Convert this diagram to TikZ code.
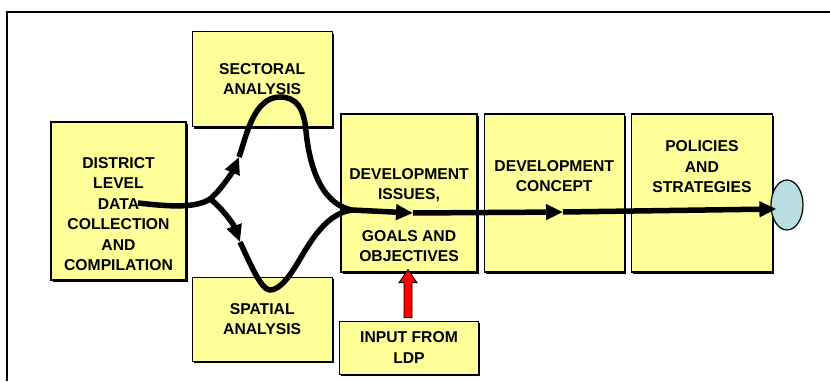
\documentclass[tikz,border=0pt]{standalone}
\usepackage{fontspec}
\setmainfont{Liberation Sans}
\usetikzlibrary{positioning}
\usetikzlibrary{shapes,arrows,shadows}
\usetikzlibrary{arrows.meta, positioning}

\definecolor{boxyellow}{RGB}{255,255,153}
\definecolor{ovalblue}{RGB}{185,222,226}

\tikzset{
	module/.style={draw, line width=1.2pt, fill=boxyellow, align=center, font=\bfseries\fontsize{15.7}{20.5}\selectfont, drop shadow={shadow xshift=1.8pt, shadow yshift=-1.8pt, fill=black, opacity=1}},
	boxtext/.style={align=center, font=\bfseries\fontsize{15.7}{20.5}\selectfont},
	flowline/.style={line width=5.5pt},
	flowhead/.style={-{Triangle[length=17pt, width=15pt]}}
}

\begin{document}
\begin{tikzpicture}[x=1pt, y=1pt]

	\useasboundingbox (0,0) rectangle (830,381);
	\path[draw, line width=1.3pt] (7,0) -- (7,369) -- (830,369);

	\node (district) [module, minimum width=135pt, minimum height=158pt] at (118.5,180) {};
	\node (sectoral) [module, minimum width=140pt, minimum height=95pt, above right=-6pt and 5pt of district] {SECTORAL\\ANALYSIS};
	\node (spatial) [module, minimum width=140pt, minimum height=84pt, below right=-4pt and 5pt of district] {SPATIAL\\ANALYSIS};
	\node (issues) [module, minimum width=136pt, minimum height=158pt] at (409,188) {};
	\node (concept) [module, minimum width=140pt, minimum height=158pt, right=6pt of issues] {};
	\node (policies) [module, minimum width=141pt, minimum height=158pt, right=6pt of concept] {};
	\node (ldp) [module, minimum width=139pt, minimum height=53pt, below=48pt of issues] {INPUT FROM\\LDP};
	\node (oval) [ellipse, draw, line width=1.2pt, fill=ovalblue, minimum width=32pt, minimum height=50pt] at (787,176) {};

	\node (district_txt) [boxtext] at ([yshift=-13pt]district.center) {DISTRICT\\LEVEL\\DATA\\COLLECTION\\AND\\COMPILATION};
	\node (issues_txt) [boxtext] at ([yshift=-22pt]issues.center) {DEVELOPMENT\\ISSUES,\\[21pt]GOALS AND\\OBJECTIVES};
	\node (concept_txt) [boxtext] at ([yshift=17pt]concept.center) {DEVELOPMENT\\CONCEPT};
	\node (policies_txt) [boxtext] at ([yshift=26pt]policies.center) {POLICIES\\AND\\STRATEGIES};

	% flow through the analyses
	\coordinate (dstart) at (138,178);
	\coordinate (split) at (210,182);
	\coordinate (uparr) at (239,224);
	\coordinate (top) at (280,284);
	\coordinate (downside) at (306,250);
	\coordinate (join) at (352,171);
	\coordinate (lowarr) at (240,139);
	\coordinate (bottom) at (270,91);
	\coordinate (upside) at (300,122);
	\coordinate (midarr) at (413,168);
	\coordinate (conarr) at (563,169);

	\path[draw, flowline, flowhead] (dstart) .. controls (165,175) and (195,172) .. (split) .. controls (221,191) and (233,210) .. (uparr);
	\path[draw, flowline] (uparr) .. controls (246,243) and (253,284) .. (top) .. controls (297,284) and (304,272) .. (downside) .. controls (309,218) and (320,177) .. (join);
	\path[draw, flowline, flowhead] (split) .. controls (220,175) and (233,158) .. (lowarr);
	\path[draw, flowline] (lowarr) .. controls (250,118) and (261,91) .. (bottom) .. controls (280,91) and (290,105) .. (upside) .. controls (315,148) and (330,168) .. (join);
	\path[draw, flowline, flowhead] (join) -- (midarr);
	\path[draw, flowline, flowhead] (midarr) -- (conarr);
	\path[draw, flowline, flowhead] (conarr) -- ([xshift=6pt, yshift=-4pt]oval.west);

	% input arrow
	\path[draw, fill=red, line width=0.8pt] ([xshift=-5pt, yshift=3pt]ldp.north) -- ++(0,35) -- ++(-5,0) -- ([xshift=-1pt, yshift=3pt]issues.south) -- ++(9,-13) -- ++(-5,0) -- ++(0,-35) -- cycle;

\end{tikzpicture}
\end{document}
